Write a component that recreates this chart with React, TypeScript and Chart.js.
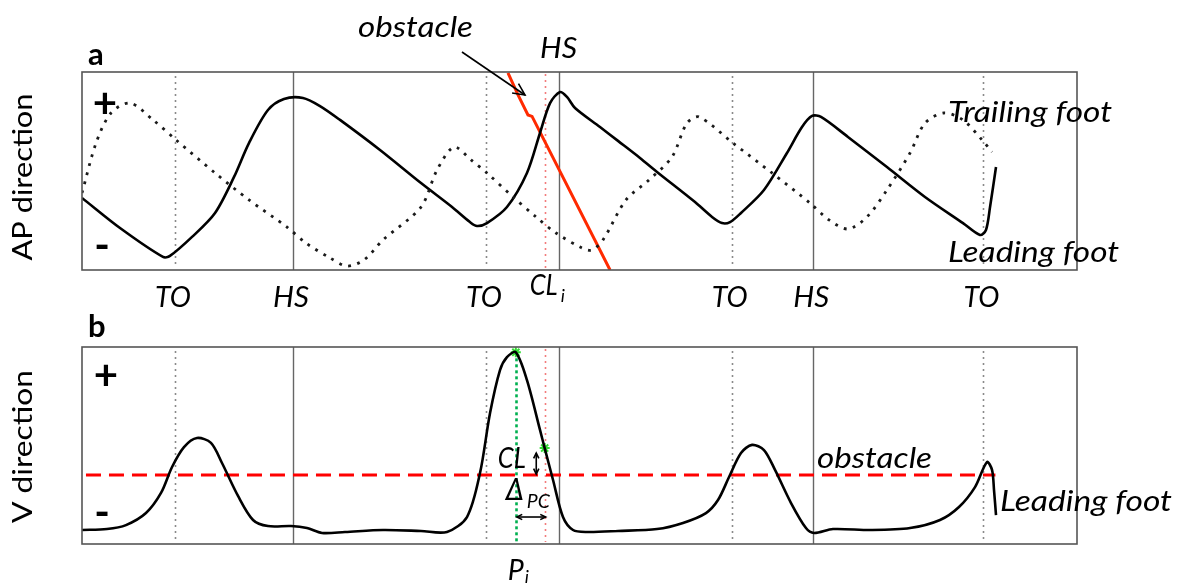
import React, { useEffect, useRef } from "react";
import { Chart, registerables } from "chart.js";
Chart.register(...registerables);

// ---------------- data ----------------
// time axis: 0..100 (% of the recorded interval), amplitude axes: 0..100 (relative)
const eventTypes = ["TO", "HS", "TO", "HS", "TO", "HS", "TO"];
const eventTimes = [9.35, 21.2, 40.6, 47.9, 65.3, 73.5, 90.6];
const eventLabelAbove = [false, false, false, true, false, false, false];
const clearanceTime = 46.5; // CL_i
const peakTime = 43.6; // P_i

// panel a: AP direction
const leadingAP: [number, number][] = [
  [0, 36.4], [3.82, 21.2], [8.14, 6.6], [8.84, 7.1], [11.06, 16.7], [13.37, 28.8],
  [15.28, 47.0], [16.78, 64.1], [18.69, 80.8], [20.3, 86.4], [22.21, 86.9], [23.92, 82.8],
  [25.93, 75.8], [29.95, 60.6], [34.07, 43.9], [37.19, 31.8], [38.99, 24.2], [39.7, 22.2],
  [40.7, 23.7], [42.71, 31.8], [44.72, 49.0], [46.03, 69.2], [47.04, 84.3], [48.04, 89.9],
  [48.74, 87.4], [49.55, 81.8], [52.06, 72.2], [53.87, 65.2], [56.08, 56.6], [57.79, 49.5],
  [61.61, 34.3], [63.32, 26.8], [64.32, 23.7], [65.13, 24.2], [66.23, 28.8], [68.54, 40.4],
  [70.85, 59.1], [72.36, 72.2], [73.37, 77.8], [74.27, 77.3], [76.98, 67.2], [80.9, 52.0],
  [84.72, 36.9], [88.54, 23.7], [90.25, 17.7], [90.85, 20.2], [91.26, 31.8], [91.86, 52.0],
];
const trailingAP: [number, number][] = [
  [0, 38.9], [1.41, 64.1], [2.91, 79.3], [4.82, 84.3], [7.14, 75.8], [9.45, 65.7],
  [13.37, 49.0], [16.78, 35.4], [20.6, 21.7], [22.51, 13.6], [24.92, 6.1], [26.63, 2.0],
  [28.34, 5.1], [30.25, 15.2], [34.07, 31.8], [35.68, 50.5], [37.39, 62.1], [39.1, 55.6],
  [40.7, 49.0], [43.32, 36.9], [45.63, 26.8], [47.64, 18.7], [50.25, 11.1], [51.26, 10.1],
  [52.36, 15.2], [54.67, 35.4], [56.98, 45.5], [59.3, 57.1], [60.8, 74.2], [62.01, 77.3],
  [65.43, 64.1], [69.35, 49.0], [73.17, 33.8], [75.08, 25.3], [76.98, 20.7], [78.89, 26.8],
  [80.9, 40.4], [83.22, 59.1], [84.72, 74.2], [86.63, 79.3], [88.54, 75.8], [90.45, 65.7],
  [91.46, 59.6],
];
const obstacleAP: [number, number][] = [
  [42.81, 99.5], [43.82, 88.4], [44.82, 78.3], [45.23, 77.6], [53.07, 0],
];
const obstaclePointer: [number, number][] = [[38.19, 110.1], [44.52, 88.4]];

// panel b: V direction
const leadingV: [number, number][] = [
  [0, 7.1], [2.51, 7.6], [4.42, 9.6], [6.43, 15.7], [7.94, 25.9], [9.05, 39.1],
  [10.25, 49.2], [11.56, 53.8], [12.96, 51.3], [14.07, 41.1], [15.68, 24.4], [17.19, 12.2],
  [18.69, 9.1], [21.01, 9.1], [22.61, 8.1], [24.12, 5.6], [26.43, 6.1], [30.25, 7.1],
  [34.07, 6.6], [36.68, 6.1], [38.69, 13.7], [40.0, 36.0], [41.01, 66.5], [42.01, 88.3],
  [42.71, 94.9], [43.6, 97.3], [44.72, 83.2], [46.03, 57.9], [46.5, 48.7], [47.34, 32.5],
  [48.34, 13.7], [49.35, 7.1], [50.75, 6.1], [53.87, 6.6], [57.79, 7.6], [60.4, 10.7],
  [62.71, 15.7], [63.92, 22.3], [65.03, 34.0], [66.23, 46.2], [67.34, 50.3], [68.54, 47.7],
  [69.65, 37.6], [71.26, 20.8], [72.76, 8.1], [73.57, 5.6], [75.48, 7.6], [79.3, 7.1],
  [83.22, 8.1], [86.23, 12.2], [88.14, 18.8], [89.75, 28.9], [90.95, 41.6], [91.46, 37.6],
  [91.66, 27.4], [91.86, 14.7],
];
const obstacleHeightV = 35.0;
const obstacleSpanV = [0.4, 91.8];
const peakPointV: [number, number] = [43.6, 97.3];
const clearancePointV: [number, number] = [46.5, 48.7];
const deltaArrowY = 13.7;

// ---------------- helpers ----------------
const FONT = "Lato, 'Open Sans', sans-serif";
const W = 1183;

function txt(
  ctx: CanvasRenderingContext2D, s: string, x: number, y: number, size: number,
  style = "", width?: number, align: "left" | "center" = "left", baseline: CanvasTextBaseline = "alphabetic"
) {
  ctx.save();
  ctx.font = `${style} ${size}px ${FONT}`;
  ctx.fillStyle = "#000";
  ctx.textBaseline = baseline;
  ctx.textAlign = "left";
  const w = ctx.measureText(s).width;
  const sx = width ? width / w : 1;
  const dw = w * sx;
  const x0 = align === "center" ? x - dw / 2 : x;
  ctx.translate(x0, y);
  ctx.scale(sx, 1);
  ctx.fillText(s, 0, 0);
  ctx.restore();
}

function vtxt(ctx: CanvasRenderingContext2D, s: string, cx: number, cy: number, size: number, width: number) {
  ctx.save();
  ctx.font = `${size}px ${FONT}`;
  ctx.fillStyle = "#000";
  ctx.textAlign = "center";
  ctx.textBaseline = "middle";
  const w = ctx.measureText(s).width;
  ctx.translate(cx, cy);
  ctx.rotate(-Math.PI / 2);
  ctx.scale(width / w, 1);
  ctx.fillText(s, 0, 0);
  ctx.restore();
}

function vline(ctx: CanvasRenderingContext2D, x: number, y1: number, y2: number, color: string, lw: number, dash: number[]) {
  ctx.save();
  ctx.strokeStyle = color;
  ctx.lineWidth = lw;
  ctx.setLineDash(dash);
  ctx.beginPath();
  ctx.moveTo(Math.round(x) + 0.5, y1);
  ctx.lineTo(Math.round(x) + 0.5, y2);
  ctx.stroke();
  ctx.restore();
}

function head(ctx: CanvasRenderingContext2D, x1: number, y1: number, x2: number, y2: number, len: number) {
  const a = Math.atan2(y2 - y1, x2 - x1);
  ctx.beginPath();
  ctx.moveTo(x2 - len * Math.cos(a - 0.45), y2 - len * Math.sin(a - 0.45));
  ctx.lineTo(x2, y2);
  ctx.lineTo(x2 - len * Math.cos(a + 0.45), y2 - len * Math.sin(a + 0.45));
  ctx.stroke();
}

function arrow(ctx: CanvasRenderingContext2D, x1: number, y1: number, x2: number, y2: number, len: number, both: boolean) {
  ctx.save();
  ctx.strokeStyle = "#000";
  ctx.lineWidth = 1.6;
  ctx.setLineDash([]);
  ctx.beginPath();
  ctx.moveTo(x1, y1);
  ctx.lineTo(x2, y2);
  ctx.stroke();
  head(ctx, x1, y1, x2, y2, len);
  if (both) head(ctx, x2, y2, x1, y1, len);
  ctx.restore();
}

function drawEventLines(chart: any) {
  const { ctx, chartArea: { top, bottom }, scales: { x } } = chart;
  eventTimes.forEach((t, i) => {
    const px = x.getPixelForValue(t);
    if (eventTypes[i] === "HS") vline(ctx, px, top, bottom, "#666", 1.4, []);
    else vline(ctx, px, top + 4, bottom - 2, "#8a8a8a", 1.6, [2, 4]);
  });
  vline(ctx, x.getPixelForValue(clearanceTime), top + 2, bottom - 2, "#f27c7c", 1.6, [2, 4]);
}

function box(chart: any) {
  const { ctx, chartArea: { left, right, top, bottom } } = chart;
  ctx.save();
  ctx.strokeStyle = "#555";
  ctx.lineWidth = 1.6;
  ctx.setLineDash([]);
  ctx.strokeRect(left, top, right - left, bottom - top);
  ctx.restore();
}

const pts = (a: [number, number][]) => a.map(([x, y]) => ({ x, y }));

const baseOptions = (padding: any) => ({
  animation: false as const,
  responsive: false,
  events: [] as any[],
  layout: { padding },
  plugins: { legend: { display: false }, tooltip: { enabled: false } },
  scales: {
    x: { type: "linear" as const, min: 0, max: 100, display: false },
    y: { type: "linear" as const, min: 0, max: 100, display: false },
  },
});

// ---------------- component ----------------
export default function App() {
  const refA = useRef<HTMLCanvasElement>(null);
  const refB = useRef<HTMLCanvasElement>(null);

  useEffect(() => {
    const pluginA = {
      id: "panelA",
      beforeDatasetsDraw(chart: any) {
        drawEventLines(chart);
      },
      afterDatasetsDraw(chart: any) {
        const { ctx, chartArea: { left, top, bottom }, scales: { x, y } } = chart;
        box(chart);
        txt(ctx, "a", left + 6, top - 7, 31, "bold");
        txt(ctx, "+", left + 23, top + 32, 42, "bold", undefined, "center", "middle");
        txt(ctx, "-", left + 20, bottom - 24, 42, "bold", undefined, "center", "middle");
        vtxt(ctx, "AP direction", 23, (top + bottom) / 2 + 6, 27, 167);
        eventTimes.forEach((t, i) => {
          const px = x.getPixelForValue(t);
          if (eventLabelAbove[i]) txt(ctx, eventTypes[i], px, top - 14, 29, "italic", 37, "center");
          else txt(ctx, eventTypes[i], px - 2, bottom + 37, 29, "italic", 36, "center");
        });
        const cx = x.getPixelForValue(clearanceTime);
        txt(ctx, "CL", cx - 15, bottom + 25, 28, "italic", 28);
        txt(ctx, "i", cx + 16, bottom + 32, 18, "italic");
        txt(ctx, "obstacle", 358, 37, 28, "italic", 115);
        txt(ctx, "Trailing foot", 948, 122, 28, "italic", 164);
        txt(ctx, "Leading foot", 948, 262, 28, "italic", 171);
        const [[fx, fy], [tx, ty]] = obstaclePointer;
        arrow(ctx, x.getPixelForValue(fx), y.getPixelForValue(fy), x.getPixelForValue(tx), y.getPixelForValue(ty), 13, false);
      },
    };

    const chartA = new Chart(refA.current!, {
      type: "line",
      data: {
        datasets: [
          { data: pts(trailingAP), borderColor: "#1a1a1a", borderWidth: 2.8, borderDash: [2.8, 6.5], pointRadius: 0, tension: 0.3 },
          { data: pts(leadingAP), borderColor: "#000", borderWidth: 2.6, pointRadius: 0, tension: 0.3 },
          { data: pts(obstacleAP), borderColor: "#ff2a00", borderWidth: 3, pointRadius: 0, tension: 0 },
        ],
      },
      options: baseOptions({ left: 82, right: W - 1077, top: 72, bottom: 310 - 270 }) as any,
      plugins: [pluginA],
    });

    const pluginB = {
      id: "panelB",
      beforeDatasetsDraw(chart: any) {
        drawEventLines(chart);
        const { ctx, chartArea: { bottom }, scales: { x, y } } = chart;
        vline(ctx, x.getPixelForValue(peakTime), y.getPixelForValue(peakPointV[1]), bottom - 1, "#00b050", 2.6, [3, 3]);
      },
      afterDatasetsDraw(chart: any) {
        const { ctx, chartArea: { left, top, bottom }, scales: { x, y } } = chart;
        box(chart);
        txt(ctx, "b", left + 6, top - 10, 31, "bold");
        txt(ctx, "+", left + 24, top + 29, 42, "bold", undefined, "center", "middle");
        txt(ctx, "-", left + 20, bottom - 31, 42, "bold", undefined, "center", "middle");
        vtxt(ctx, "V direction", 23, (top + bottom) / 2 + 1, 27, 153);
        txt(ctx, "obstacle", 817, 158, 28, "italic", 115);
        txt(ctx, "Leading foot", 1000, 201, 28, "italic", 172);
        const pxP = x.getPixelForValue(peakTime);
        const pxC = x.getPixelForValue(clearancePointV[0]);
        txt(ctx, "CL", pxP - 18, 158, 29, "italic", 28);
        txt(ctx, "\u0394", pxP - 10, 190, 30, "italic", 18);
        txt(ctx, "PC", pxP + 11, 198, 20, "italic", 23);
        txt(ctx, "P", pxP - 8, 270, 29, "italic", 16);
        txt(ctx, "i", pxP + 9, 273, 18, "italic");
        // CL vertical double arrow
        const ax = (pxP + pxC) / 2 + 6;
        arrow(ctx, ax, y.getPixelForValue(clearancePointV[1]) + 5, ax, y.getPixelForValue(obstacleHeightV) - 1, 6, true);
        // delta PC horizontal double arrow
        const ay = y.getPixelForValue(deltaArrowY);
        arrow(ctx, pxP + 1, ay, pxC + 1, ay, 6, true);
      },
    };

    const chartB = new Chart(refB.current!, {
      type: "line",
      data: {
        datasets: [
          { data: pts(leadingV), borderColor: "#000", borderWidth: 2.6, pointRadius: 0, tension: 0.3 },
          {
            data: [{ x: obstacleSpanV[0], y: obstacleHeightV }, { x: obstacleSpanV[1], y: obstacleHeightV }],
            borderColor: "#ff0000", borderWidth: 3, borderDash: [15, 8], pointRadius: 0,
          },
          {
            data: [{ x: peakPointV[0], y: peakPointV[1] }, { x: clearancePointV[0], y: clearancePointV[1] }],
            showLine: false, pointStyle: "star", pointRadius: 5, borderColor: "#33dd33", borderWidth: 2, backgroundColor: "#33dd33",
          },
        ],
      },
      options: baseOptions({ left: 82, right: W - 1077, top: 347 - 310, bottom: 583 - 544 }) as any,
      plugins: [pluginB],
    });

    return () => {
      chartA.destroy();
      chartB.destroy();
    };
  }, []);

  return (
    <div style={{ position: "absolute", left: 0, top: 0, width: W, height: 583, background: "#fff" }}>
      <canvas ref={refA} width={W} height={310} style={{ position: "absolute", left: 0, top: 0, width: W, height: 310 }} />
      <canvas ref={refB} width={W} height={273} style={{ position: "absolute", left: 0, top: 310, width: W, height: 273 }} />
    </div>
  );
}
